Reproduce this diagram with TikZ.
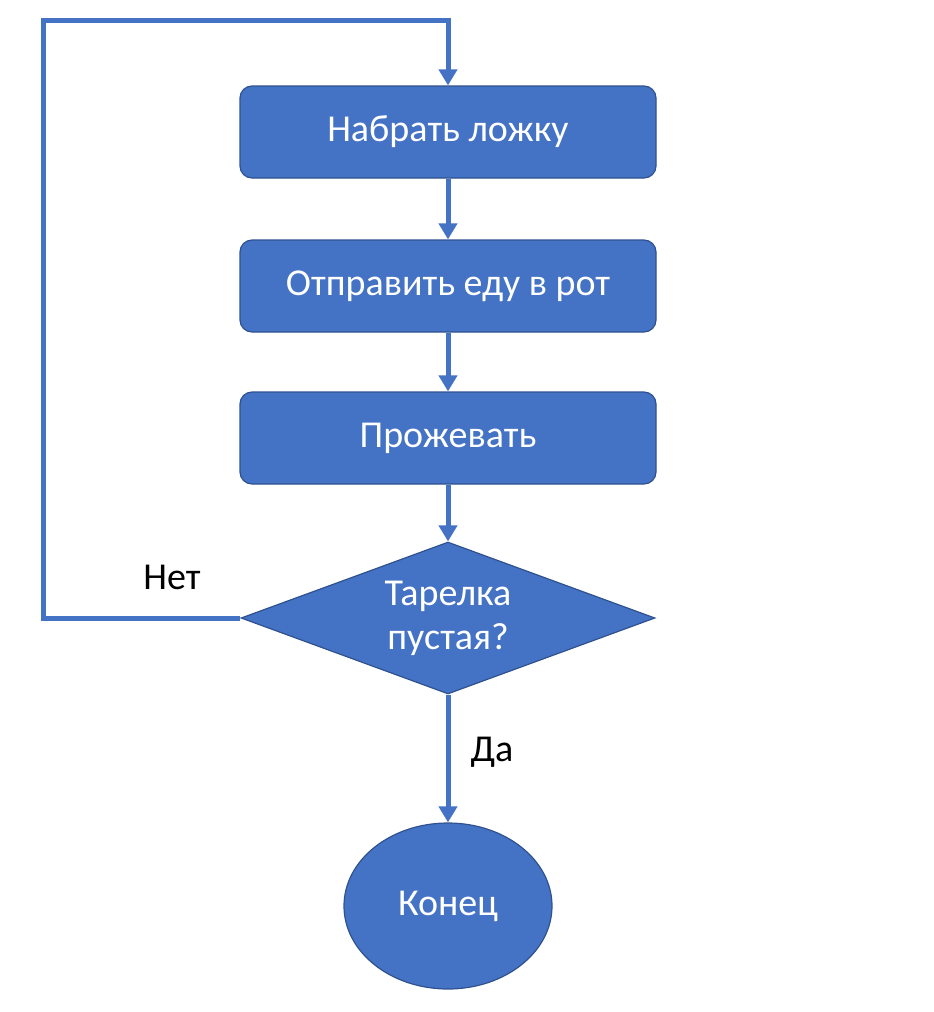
\documentclass[tikz,border=0pt]{standalone}
\usepackage{fontspec}
\setmainfont{Carlito}
\usetikzlibrary{shapes.geometric,arrows.meta}
\definecolor{boxblue}{HTML}{4472C4}
\definecolor{boxedge}{HTML}{2F528F}
\begin{document}
\begin{tikzpicture}[x=1pt,y=-1pt]

      \useasboundingbox (0,0) rectangle (934,1012);

      \begin{scope}[every node/.style={fill=boxblue, draw=boxedge, line width=1.2pt,
          text=white, font=\fontsize{38}{44}\selectfont, align=center}]
        \node[rectangle, rounded corners=12pt, minimum width=416pt, minimum height=92pt] (1) at (448,132) {Набрать ложку};
        \node[rectangle, rounded corners=12pt, minimum width=416pt, minimum height=92pt] (2) at (448,286) {Отправить еду в рот};
        \node[rectangle, rounded corners=12pt, minimum width=416pt, minimum height=92pt] (3) at (448,438) {Прожевать};
        \node[diamond, aspect=2.72, inner sep=0pt, minimum width=414pt, minimum height=152pt] (4) at (448,618) {Тарелка\\пустая?};
        \node[ellipse, minimum width=208pt, minimum height=166pt] (5) at (448,906) {Конец};
      \end{scope}

      \coordinate (6) at (43,20);

      \begin{scope}[every path/.style={draw=boxblue, line width=5pt,
          -{Triangle[width=18pt,length=16pt]}}]
        \path (1) -- (2);
        \path (2) -- (3);
        \path (3) -- (4);
        \path (4) -- (5);
        \path[rounded corners=0pt] (4.west) -| (6) -| (1.north);
      \end{scope}

      \begin{scope}[every node/.style={font=\fontsize{38}{44}\selectfont}]
        \node (7) at (172,577) {Нет};
        \node (8) at (492,752) {Да};
      \end{scope}

    \end{tikzpicture}
\end{document}
